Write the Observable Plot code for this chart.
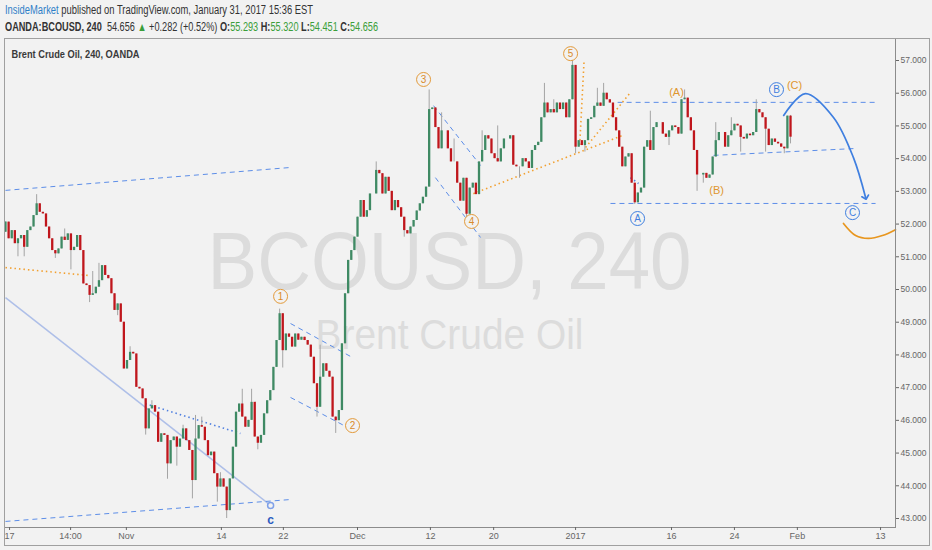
<!DOCTYPE html>
<html><head><meta charset="utf-8">
<script src="https://cdn.jsdelivr.net/npm/d3@7"></script>
<script src="https://cdn.jsdelivr.net/npm/@observablehq/plot@0.6"></script>
<style>
body{margin:0;background:#f2f2f2;width:932px;height:550px;overflow:hidden;position:relative;font-family:"Liberation Sans",Arial,sans-serif;}
.hdr{position:absolute;left:5px;white-space:nowrap;transform-origin:0 0;font-size:12px;color:#333;}
#l1{top:3px;}
#l2{top:20px;}
.g{color:#3a9e3a;}
#chart{position:absolute;left:4px;top:38px;width:924px;height:506px;border:1px solid #a0a0a0;}
</style></head><body>
<div class="hdr" id="l1"><span style="color:#2f80c8">InsideMarket</span> published on TradingView.com, January 31, 2017 15:36 EST</div>
<div class="hdr" id="l2"><b>OANDA:BCOUSD, 240</b>&nbsp; 54.656 <span class="g">▲</span> +0.282 (+0.52%) <b>O:</b><span class="g">55.293</span> <b>H:</b><span class="g">55.320</span> <b>L:</b><span class="g">54.451</span> <b>C:</b><span class="g">54.656</span></div>
<div id="chart"></div>
<script>
// ---- data ----
const closes = [
52.06,51.55,51.80,51.40,51.55,51.65,51.29,51.80,51.91,52.26,52.62,52.36,52.31,51.91,51.55,51.19,51.09,51.24,51.60,51.50,
51.70,51.19,51.29,51.65,51.19,50.17,50.12,49.82,49.87,50.07,50.27,50.73,50.43,50.33,49.87,49.36,49.56,49.00,47.57,47.83,
48.08,48.03,47.01,46.96,46.66,45.74,46.35,46.45,46.25,45.33,45.59,45.54,44.67,45.38,45.49,45.18,45.43,45.74,45.38,45.08,
44.16,45.43,45.84,45.79,45.38,44.92,45.03,44.37,43.96,44.21,43.96,43.24,44.21,
45.18,46.25,46.50,46.10,45.79,46.00,46.55,45.49,45.30,45.54,46.20,46.60,46.91,47.62,48.44,49.26,48.13,48.64,48.54,48.24,
48.64,48.45,48.54,48.44,48.30,47.93,47.12,46.40,47.32,47.73,47.50,47.32,46.10,45.99,46.30,48.34,49.87,50.89,51.19,51.60,
52.21,52.72,52.21,52.41,52.92,52.92,53.64,53.54,52.92,53.43,53.00,52.41,52.72,52.50,52.21,51.80,51.70,51.91,52.11,52.40,
52.62,52.82,53.13,55.50,
55.55,54.95,54.30,54.85,54.85,54.30,53.90,53.90,53.25,52.70,53.40,52.30,53.10,53.25,52.90,53.90,54.25,54.70,54.60,54.15,
54.00,53.90,54.30,54.60,54.60,54.70,53.80,53.75,53.75,54.00,53.90,53.70,54.25,54.40,54.50,55.25,55.70,55.40,55.50,55.40,
55.70,55.50,55.70,55.25,55.80,56.85,54.35,54.55,54.40,54.55,55.20,55.25,55.60,55.70,55.60,56.00,55.80,55.70,55.25,54.85,
54.35,53.75,54.05,54.15,53.25,52.65,52.95,53.10,54.35,54.55,54.25,54.95,55.10,55.10,54.75,54.65,54.85,55.00,54.95,54.75,
55.80,55.85,55.25,54.85,54.25,53.50,53.50,53.55,53.40,53.50,54.05,54.55,54.80,54.80,54.35,54.70,54.85,55.05,55.00,54.65,
54.60,54.75,54.70,54.80,55.50,55.40,55.25,54.90,54.40,54.60,54.50,54.45,54.35,54.30,55.30,54.656
];
const firstOpen = 51.75;
const spikeHigh = [[10,52.9],[19,51.85],[28,50.55],[30,50.8],[40,48.25],[47,46.6],[57,45.85],[61,46.15],[63,46.1],[69,44.4],
  [76,46.95],[79,46.95],[88,49.4],[101,48.3],[119,53.9],[136,56.1],[140,55.4],[144,54.6],[153,54.85],[158,55.0],[173,56.3],
  [176,55.8],[182,57.05],[190,56.15],[192,56.3],[207,55.45],[218,56.1],[228,55.1],[233,55.25],[241,55.8],[252,55.32]];
const spikeLow = [[4,51.0],[6,51.0],[16,50.95],[21,50.6],[27,49.6],[36,49.2],[45,45.55],[52,44.2],[55,44.6],[60,43.6],[68,43.5],
  [71,43.0],[81,45.1],[89,47.6],[100,46.1],[106,45.6],[128,51.6],[148,52.2],[165,53.4],[183,54.15],[186,54.2],[202,52.6],
  [203,52.75],[213,54.4],[222,53.0],[224,53.25],[236,54.2],[244,54.2],[250,54.15],[252,54.451]];
const xTickIdx = [1.3,20.9,38.8,69.3,89.2,113.0,136.4,156.7,183.0,213.8,234.0,254.2,280.9];
const xTickLabels = ["17","14:00","Nov","14","22","Dec","12","20","2017","16","24","Feb","13"];
const yTicks = [43,44,45,46,47,48,49,50,51,52,53,54,55,56,57];

// drawn trend lines [x1, y1, x2, y2] in (bar, price)
const blueDashed = [[0,53.03,91.5,53.73],[0,42.91,91.5,43.58],[91.5,48.96,111.4,47.92],[91.5,46.70,111.7,45.69],
  [137.4,55.62,152.5,53.79],[138.0,53.42,152.5,51.59],[196.5,55.72,279.3,55.72],[194.2,52.63,279.3,52.63],[227.3,54.10,272.9,54.31]];
const blueDotted = [[44.9,46.51,75.4,45.60],[200.6,53.42,203.2,53.24]];
const lightSolid = [[0,49.75,85.1,43.40]];
const orangeDotted = [[0,50.67,26.6,50.43],[150.2,52.93,198.1,54.71],[186.2,54.34,200.6,56.02],[185.7,56.94,184.3,54.37]];
const arrowPath = [[249.8,55.32],[256.8,55.99],[265.8,55.26],[272.2,54.03],[276.1,52.81]];
const orangePath = [[269.0,52.02],[272.9,51.65],[277.0,51.56],[281.5,51.65],[285.7,51.83]];
const waveNums = [["1",88.3,49.79],["2",111.4,45.84],["3",134.2,56.42],["4",149.6,52.08],["5",181.4,57.21]];
const waveABC = [["A",202.9,52.17],["B",247.5,56.11],["C",271.9,52.35]];
const waveParen = [["(A)",215.4,56.02],["(B)",228.3,53.03],["(C)",253.3,56.24]];
const waveSmall = [["c",85.1,42.94]];
const pivotDot = [[85.1,43.40]];

// ---- build ----
const candles = closes.map((c,i)=>{const o = i ? closes[i-1] : firstOpen; return {i,o,c,hi:Math.max(o,c),lo:Math.min(o,c)};});
spikeHigh.forEach(([i,v])=>{candles[i].hi=Math.max(candles[i].hi,v);});
spikeLow.forEach(([i,v])=>{candles[i].lo=Math.min(candles[i].lo,v);});
const seg = a => a.map(([x1,y1,x2,y2])=>({x1,y1,x2,y2}));
const pts = a => a.map(([x,y])=>({x,y}));
const lab = a => a.map(([t,x,y])=>({t,x,y}));
const GREEN="#3f8a64", RED="#c0161c", BLUE="#3f7fe0", ORANGE="#e8961e";
const labelMap = new Map(xTickIdx.map((d,i)=>[d,xTickLabels[i]]));

const plot = Plot.plot({
  width:924, height:506, marginLeft:0, marginRight:34, marginTop:0, marginBottom:18,
  style:{background:"transparent", fontFamily:"'Liberation Sans', Arial, sans-serif"},
  x:{domain:[0,285.7], axis:null},
  y:{domain:[43,57], range:[479,21], axis:null},
  marks:[
    Plot.text(["BCOUSD, 240"],{frameAnchor:"top-left",dx:444,dy:249,textAnchor:"middle",lineAnchor:"bottom",fontSize:82,fill:"#dcdcdc"}),
    Plot.text(["Brent Crude Oil"],{frameAnchor:"top-left",dx:444,dy:309,textAnchor:"middle",lineAnchor:"bottom",fontSize:43,fill:"#dcdcdc"}),
    Plot.text(["Brent Crude Oil, 240, OANDA"],{frameAnchor:"top-left",dx:6,dy:18,textAnchor:"start",lineAnchor:"bottom",fontSize:11,fontWeight:"bold",fill:"#3a3a3a"}),
    Plot.link(seg(lightSolid),{x1:"x1",y1:"y1",x2:"x2",y2:"y2",stroke:"#aebfe8",strokeWidth:1.5}),
    Plot.link(seg(blueDashed),{x1:"x1",y1:"y1",x2:"x2",y2:"y2",stroke:"#5d8ee8",strokeWidth:1,strokeDasharray:"5,4"}),
    Plot.link(seg(blueDotted),{x1:"x1",y1:"y1",x2:"x2",y2:"y2",stroke:"#4f7fe0",strokeWidth:1.6,strokeDasharray:"1.5,3"}),
    Plot.link(seg(orangeDotted),{x1:"x1",y1:"y1",x2:"x2",y2:"y2",stroke:"#f2a030",strokeWidth:1.6,strokeDasharray:"1.5,3"}),
    Plot.ruleX(candles,{x:"i",y1:"lo",y2:"hi",stroke:"#a4a4a4",strokeWidth:1}),
    Plot.ruleX(candles,{x:"i",y1:"o",y2:"c",stroke:d=>d.c>=d.o?GREEN:RED,strokeWidth:2.3}),
    Plot.line(pts(arrowPath),{x:"x",y:"y",curve:"catmull-rom",stroke:BLUE,strokeWidth:1.7,markerEnd:"arrow"}),
    Plot.line(pts(orangePath),{x:"x",y:"y",curve:"catmull-rom",stroke:ORANGE,strokeWidth:1.7}),
    Plot.dot(pts(pivotDot),{x:"x",y:"y",r:3,stroke:"#7fa0e8",fill:"#f2f2f2"}),
    Plot.dot(lab(waveNums),{x:"x",y:"y",r:7,stroke:"#e39a3a",fill:"#f2f2f2",strokeWidth:1}),
    Plot.text(lab(waveNums),{x:"x",y:"y",text:"t",fill:"#d98a2a",fontSize:10}),
    Plot.dot(lab(waveABC),{x:"x",y:"y",r:7,stroke:BLUE,fill:"#f2f2f2",strokeWidth:1}),
    Plot.text(lab(waveABC),{x:"x",y:"y",text:"t",fill:BLUE,fontSize:10}),
    Plot.text(lab(waveParen),{x:"x",y:"y",text:"t",fill:"#e0962e",fontSize:11}),
    Plot.text(lab(waveSmall),{x:"x",y:"y",text:"t",fill:"#2a5cc0",fontSize:12,fontWeight:"bold"}),
    Plot.frame({anchor:"right",stroke:"#8c8c8c"}),
    Plot.frame({anchor:"bottom",stroke:"#8c8c8c"}),
    Plot.axisY({anchor:"right",ticks:yTicks,tickFormat:d3.format(".3f"),tickSize:3,tickPadding:2,fontSize:8.5,color:"#666"}),
    Plot.axisX({anchor:"bottom",ticks:xTickIdx,tickFormat:d=>labelMap.get(d),tickSize:3,tickPadding:2,fontSize:9,color:"#666"})
  ]
});
document.getElementById("chart").appendChild(plot);
const fit = (txt,len)=>{d3.select(plot).selectAll("text").filter(function(){return this.textContent===txt;}).attr("textLength",len).attr("lengthAdjust","spacingAndGlyphs");};
fit("BCOUSD, 240",484);
fit("Brent Crude Oil",268);
fit("Brent Crude Oil, 240, OANDA",128);
const fitH=(id,w)=>{const el=document.getElementById(id);const r=el.getBoundingClientRect().width;el.style.transform=`scaleX(${w/r})`;};
fitH("l1",308); fitH("l2",373);
</script>
</body></html>
